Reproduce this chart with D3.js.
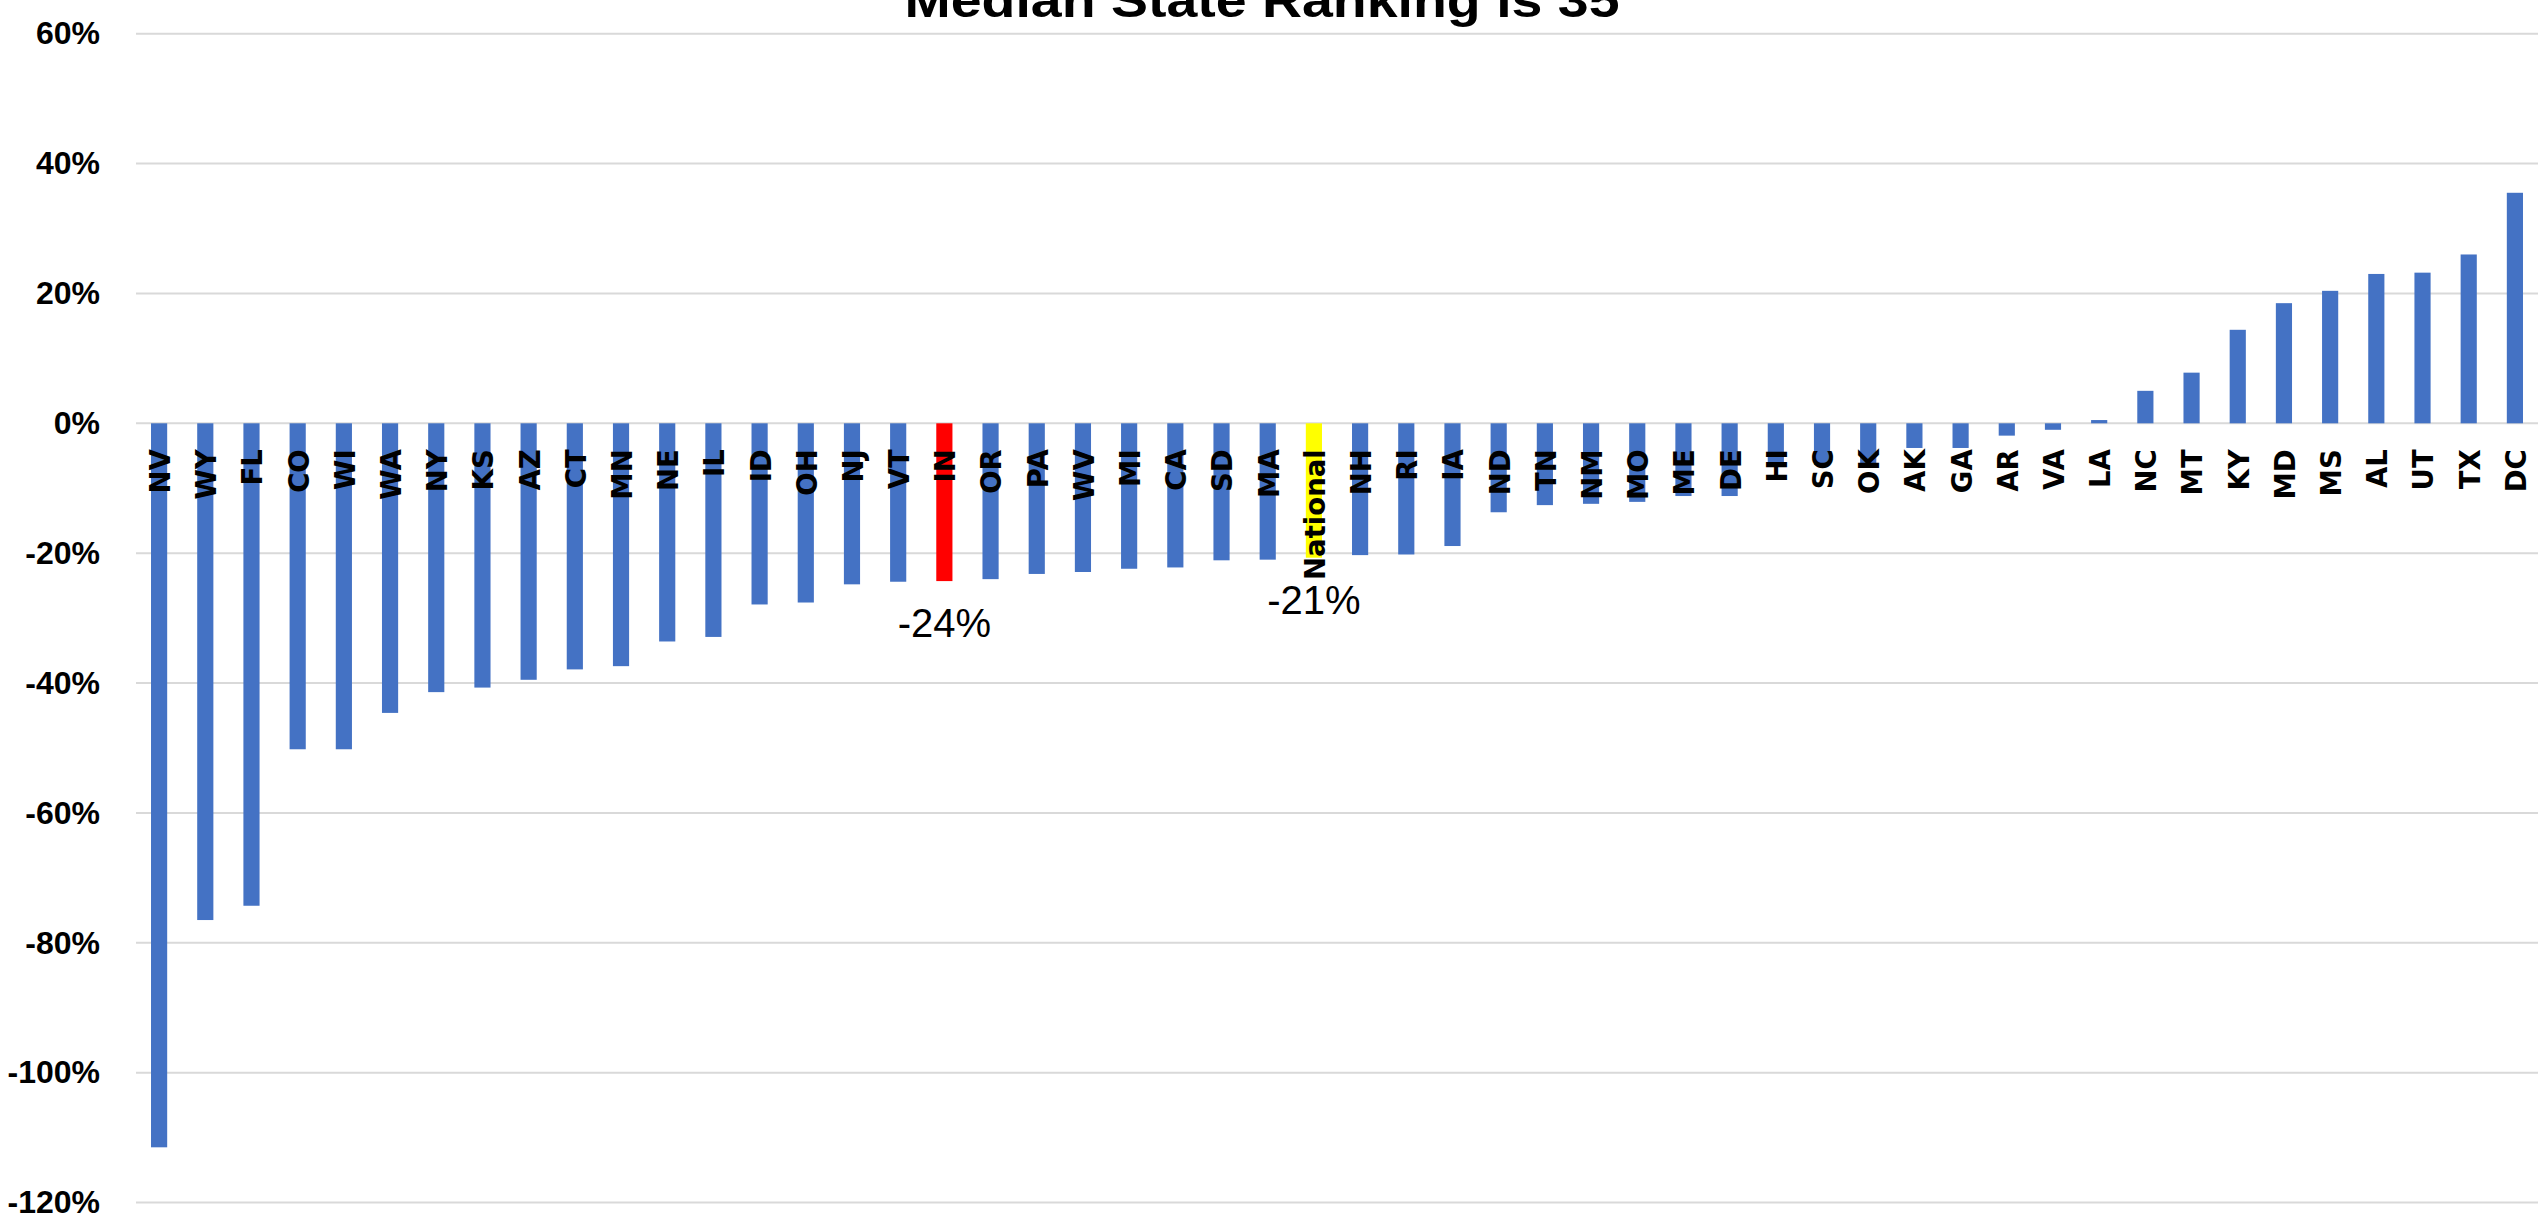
<!DOCTYPE html>
<html>
<head>
<meta charset="utf-8">
<script src="https://cdn.jsdelivr.net/npm/d3@7"></script>
<style>
  html, body { margin: 0; padding: 0; background: #ffffff; overflow: hidden; }
</style>
</head>
<body>
<svg id="chart" width="2547" height="1225"></svg>
<script>
// ---- data ----
const categories = ["NV","WY","FL","CO","WI","WA","NY","KS","AZ","CT","MN","NE","IL","ID","OH","NJ","VT","IN","OR","PA","WV","MI","CA","SD","MA","National","NH","RI","IA","ND","TN","NM","MO","ME","DE","HI","SC","OK","AK","GA","AR","VA","LA","NC","MT","KY","MD","MS","AL","UT","TX","DC"];
const values = [-111.5,-76.5,-74.3,-50.2,-50.2,-44.6,-41.4,-40.7,-39.5,-37.9,-37.4,-33.6,-32.9,-27.9,-27.6,-24.8,-24.4,-24.3,-24.0,-23.2,-22.9,-22.4,-22.2,-21.1,-21.0,-20.7,-20.3,-20.2,-18.9,-13.7,-12.6,-12.4,-12.1,-11.2,-11.2,-6.6,-6.4,-6.2,-3.8,-3.8,-1.9,-1.0,0.5,5.0,7.8,14.4,18.5,20.4,23.0,23.2,26.0,35.5];
const highlightCats = ["IN","National"];
const highlightColors = ["#ff0000","#ffff00"];
const labelCats = ["IN","National"];
const labelTexts = ["-24%","-21%"];
const yTicks = [60,40,20,0,-20,-40,-60,-80,-100,-120];
const title = "Median State Ranking is 35";

(function () {
// ---- layout ----
const svg = d3.select("#chart");
const pLeft = 136, pRight = 2538, pTop = 33.7, pBottom = 1202.5;

const x = d3.scaleBand().domain(categories).range([pLeft, pRight]).paddingInner(0.65).paddingOuter(0.325);
const y = d3.scaleLinear().domain([-120, 60]).range([pBottom, pTop]);

// gridlines
svg.append("g").selectAll("line").data(yTicks).join("line")
  .attr("x1", pLeft).attr("x2", pRight)
  .attr("y1", d => y(d)).attr("y2", d => y(d))
  .attr("stroke", "#d9d9d9").attr("stroke-width", 2);

// y axis labels
const yAxis = d3.axisLeft(y).tickValues(yTicks).tickSize(0).tickPadding(0).tickFormat(d => d + "%");
const yg = svg.append("g").attr("transform", "translate(100,0)").call(yAxis);
yg.select(".domain").remove();
yg.selectAll("text")
  .attr("font-family", "'Liberation Sans', Arial, sans-serif")
  .attr("font-weight", "bold").attr("font-size", 32).attr("fill", "#000");

// bars
const colorOf = c => { const i = highlightCats.indexOf(c); return i >= 0 ? highlightColors[i] : "#4472c4"; };
svg.append("g").selectAll("rect").data(categories).join("rect")
  .attr("x", c => x(c))
  .attr("width", x.bandwidth())
  .attr("y", (c, i) => y(Math.max(0, values[i])))
  .attr("height", (c, i) => Math.abs(y(values[i]) - y(0)))
  .attr("fill", c => colorOf(c));

// category labels (rotated, on top of bars)
svg.append("g").selectAll("text").data(categories).join("text")
  .attr("transform", c => `translate(${x(c) + x.bandwidth() / 2 + 1},${y(0) + 26}) rotate(-90)`)
  .attr("text-anchor", "end")
  .attr("dy", "0.36em")
  .attr("font-family", "'DejaVu Sans', Verdana, sans-serif")
  .attr("font-weight", "bold").attr("font-size", 27.5).attr("fill", "#000")
  .text(c => c);

// data labels
svg.append("g").selectAll("text").data(labelCats).join("text")
  .attr("x", c => x(c) + x.bandwidth() / 2)
  .attr("y", c => y(values[categories.indexOf(c)]) + 56)
  .attr("text-anchor", "middle")
  .attr("font-family", "'Liberation Sans', Arial, sans-serif")
  .attr("font-size", 40).attr("fill", "#000")
  .text((c, i) => labelTexts[i]);

// title (cut off at top, as in the reference)
svg.append("text")
  .attr("x", 1262).attr("y", 17)
  .attr("text-anchor", "middle")
  .attr("font-family", "'Liberation Sans Narrow', 'Liberation Sans', Arial, sans-serif")
  .attr("font-weight", "bold").attr("font-size", 48).attr("fill", "#000")
  .attr("textLength", 715).attr("lengthAdjust", "spacingAndGlyphs")
  .text(title);
})();
</script>
</body>
</html>
